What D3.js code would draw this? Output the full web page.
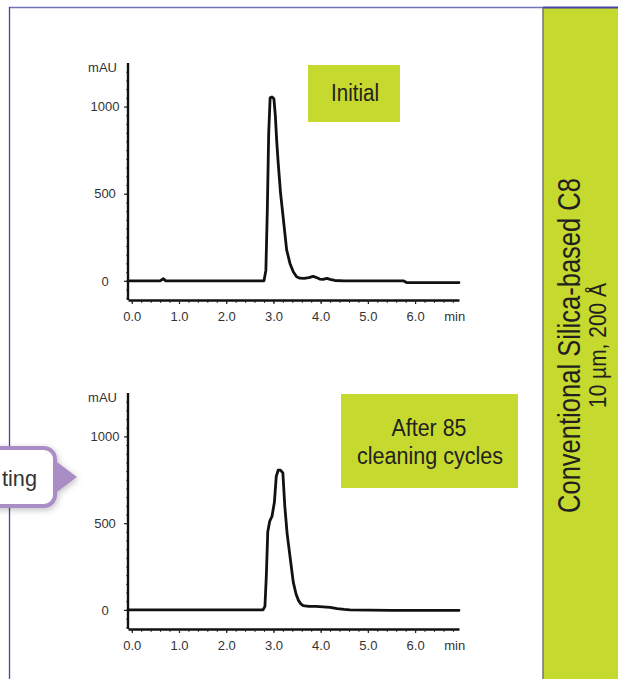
<!DOCTYPE html>
<html>
<head>
<meta charset="utf-8">
<script src="https://cdn.jsdelivr.net/npm/d3@7"></script>
<style>
html,body{margin:0;padding:0;background:#fff;}
svg{display:block;}
</style>
</head>
<body>
<svg id="chart" width="618" height="679"></svg>
<script>
// ---------- data ----------
const xTickValues = [0, 1, 2, 3, 4, 5, 6];
const xTickLabels = ["0.0", "1.0", "2.0", "3.0", "4.0", "5.0", "6.0"];
const yTickValues = [0, 500, 1000];
const yTickLabels = ["0", "500", "1000"];
const xUnit = "min";
const yUnit = "mAU";

const initialTime = [-0.08, 0.6, 0.67, 0.72, 2.8, 2.84, 2.87, 2.9, 2.93, 2.97, 3.01, 3.04, 3.07, 3.1, 3.15, 3.2, 3.28, 3.35, 3.42, 3.49, 3.56, 3.65, 3.75, 3.84, 3.9, 3.98, 4.05, 4.13, 4.2, 4.3, 4.5, 5.0, 5.75, 5.82, 6.93];
const initialMAU  = [0, 0, 12, 0, 0, 60, 400, 850, 1050, 1055, 1045, 950, 800, 680, 505, 380, 178, 100, 52, 23, 15, 14, 18, 26, 20, 10, 8, 14, 8, 2, 0, 0, 0, -10, -10];

const afterTime = [-0.08, 2.78, 2.82, 2.85, 2.88, 2.92, 2.97, 3.02, 3.06, 3.1, 3.15, 3.2, 3.24, 3.29, 3.35, 3.42, 3.48, 3.53, 3.58, 3.63, 3.75, 3.9, 4.05, 4.2, 4.35, 4.5, 4.62, 5.5, 6.93];
const afterMAU  = [0, 0, 20, 200, 450, 510, 540, 620, 770, 805, 805, 790, 600, 440, 310, 160, 90, 55, 35, 25, 20, 20, 18, 15, 8, 3, 0, -3, -3];

const panelLabels = [["Initial"], ["After 85", "cleaning cycles"]];
const sideTitle = "Conventional Silica-based C8";
const sideSubtitle = "10 µm, 200 Å";
const calloutText = "ting";

// ---------- drawing ----------
const svg = d3.select("#chart");
const green = "#c6d92e";
const frameBlue = "#4646a4";

// frame
svg.append("rect").attr("x", 543).attr("y", 8).attr("width", 75).attr("height", 671).attr("fill", green);
svg.append("line").attr("x1", 9).attr("x2", 543).attr("y1", 7.5).attr("y2", 7.5).attr("stroke", "#7474bc").attr("stroke-width", 1.5);
svg.append("line").attr("x1", 543).attr("x2", 618).attr("y1", 7.5).attr("y2", 7.5).attr("stroke", frameBlue).attr("stroke-width", 2);
svg.append("line").attr("x1", 9.5).attr("x2", 9.5).attr("y1", 7).attr("y2", 679).attr("stroke", frameBlue).attr("stroke-width", 1.3);
svg.append("line").attr("x1", 543).attr("x2", 543).attr("y1", 8).attr("y2", 679).attr("stroke", "#6d7a6a").attr("stroke-width", 1.5);

const fontAxis = "'Liberation Sans', Arial, sans-serif";
const fontLabel = "'Liberation Sans Narrow', 'Liberation Sans', Arial, sans-serif";

function drawPanel(times, values, yAxisBottom, yAxisTop, labelLines, box) {
  const x = d3.scaleLinear().domain([-0.08, 6.93]).range([128, 459]);
  const y = d3.scaleLinear().domain([-110, 1250]).range([yAxisBottom, yAxisTop]);
  const g = svg.append("g");

  // minor x ticks
  g.append("g").attr("transform", `translate(0,${yAxisBottom})`)
    .call(d3.axisBottom(x).tickValues(d3.range(0, 6.9, 0.2)).tickSize(3).tickFormat(""))
    .call(s => s.select(".domain").remove())
    .call(s => s.selectAll("line").attr("stroke", "#444").attr("stroke-width", 1));
  // major x axis
  const xa = g.append("g").attr("transform", `translate(0,${yAxisBottom})`)
    .call(d3.axisBottom(x).tickValues(xTickValues).tickSize(4).tickSizeOuter(0)
      .tickFormat((d, i) => xTickLabels[i]));
  xa.select(".domain").attr("stroke", "#111").attr("stroke-width", 2.4);
  xa.selectAll("line").attr("stroke", "#222").attr("stroke-width", 1.2);
  xa.selectAll("text").attr("font-family", fontAxis).attr("font-size", 13)
    .attr("fill", "#333").attr("dy", "1.05em");
  g.append("text").attr("x", x(6.84)).attr("y", yAxisBottom + 21)
    .attr("text-anchor", "middle").attr("font-family", fontAxis).attr("font-size", 13)
    .attr("fill", "#333").text(xUnit);

  // minor y ticks
  g.append("g").attr("transform", "translate(128,0)")
    .call(d3.axisLeft(y).tickValues(d3.range(-100, 1250, 50)).tickSize(2).tickFormat(""))
    .call(s => s.select(".domain").remove())
    .call(s => s.selectAll("line").attr("stroke", "#555").attr("stroke-width", 1));
  // major y axis
  const ya = g.append("g").attr("transform", "translate(128,0)")
    .call(d3.axisLeft(y).tickValues(yTickValues).tickSize(4).tickSizeOuter(0)
      .tickFormat((d, i) => yTickLabels[i]));
  ya.select(".domain").attr("stroke", "#111").attr("stroke-width", 2.4)
    .attr("d", `M0,${yAxisBottom}V${yAxisTop}`);
  ya.selectAll("line").attr("stroke", "#222").attr("stroke-width", 1.2);
  ya.selectAll("text").attr("font-family", fontAxis).attr("font-size", 13)
    .attr("fill", "#333").attr("text-anchor", "middle").attr("x", -23);
  g.append("text").attr("x", 117).attr("y", yAxisTop + 9)
    .attr("text-anchor", "end").attr("font-family", fontAxis).attr("font-size", 13)
    .attr("fill", "#333").text(yUnit);

  // trace
  const line = d3.line().x((d, i) => x(times[i])).y(d => y(d));
  g.append("path").datum(values).attr("d", line)
    .attr("fill", "none").attr("stroke", "#111").attr("stroke-width", 2.8)
    .attr("stroke-linejoin", "round").attr("stroke-linecap", "round");

  // label box
  g.append("rect").attr("x", box.x).attr("y", box.y).attr("width", box.w).attr("height", box.h).attr("fill", green);
  labelLines.forEach((t, i) => {
    g.append("text").attr("x", box.cx[i]).attr("y", box.baselines[i])
      .attr("text-anchor", "middle").attr("font-family", fontLabel).attr("font-size", 23)
      .attr("textLength", box.lengths[i]).attr("lengthAdjust", "spacingAndGlyphs")
      .attr("fill", "#231f20").text(t);
  });
}

drawPanel(initialTime, initialMAU, 300, 63, panelLabels[0],
  {x: 308, y: 65, w: 92, h: 57, cx: [355], baselines: [101], lengths: [48]});
drawPanel(afterTime, afterMAU, 629, 393, panelLabels[1],
  {x: 341, y: 394, w: 177, h: 94, cx: [429, 430], baselines: [436, 464], lengths: [75, 146]});

// side titles
svg.append("text").attr("transform", "translate(580,345.5) rotate(-90)")
  .attr("text-anchor", "middle").attr("font-family", fontLabel).attr("font-size", 31)
  .attr("textLength", 335).attr("lengthAdjust", "spacingAndGlyphs")
  .attr("fill", "#231f20").text(sideTitle);
svg.append("text").attr("transform", "translate(606,345.5) rotate(-90)")
  .attr("text-anchor", "middle").attr("font-family", fontLabel).attr("font-size", 23)
  .attr("textLength", 125).attr("lengthAdjust", "spacingAndGlyphs")
  .attr("fill", "#231f20").text(sideSubtitle);

// callout
const defs = svg.append("defs");
const f = defs.append("filter").attr("id", "sh").attr("x", "-50%").attr("y", "-50%").attr("width", "200%").attr("height", "200%");
f.append("feDropShadow").attr("dx", 1).attr("dy", 2).attr("stdDeviation", 3).attr("flood-color", "#000").attr("flood-opacity", 0.25);
const cg = svg.append("g").attr("filter", "url(#sh)");
cg.append("path").attr("d", "M53,459 L77,477 L53,495 Z").attr("fill", "#a98dc4");
cg.append("rect").attr("x", -20).attr("y", 448).attr("width", 75).attr("height", 58).attr("rx", 11)
  .attr("fill", "#fff").attr("stroke", "#a98dc4").attr("stroke-width", 4);
svg.append("text").attr("x", 37).attr("y", 486).attr("text-anchor", "end")
  .attr("font-family", fontLabel).attr("font-size", 22)
  .attr("textLength", 35).attr("lengthAdjust", "spacingAndGlyphs")
  .attr("fill", "#333").text(calloutText);
</script>
</body>
</html>
